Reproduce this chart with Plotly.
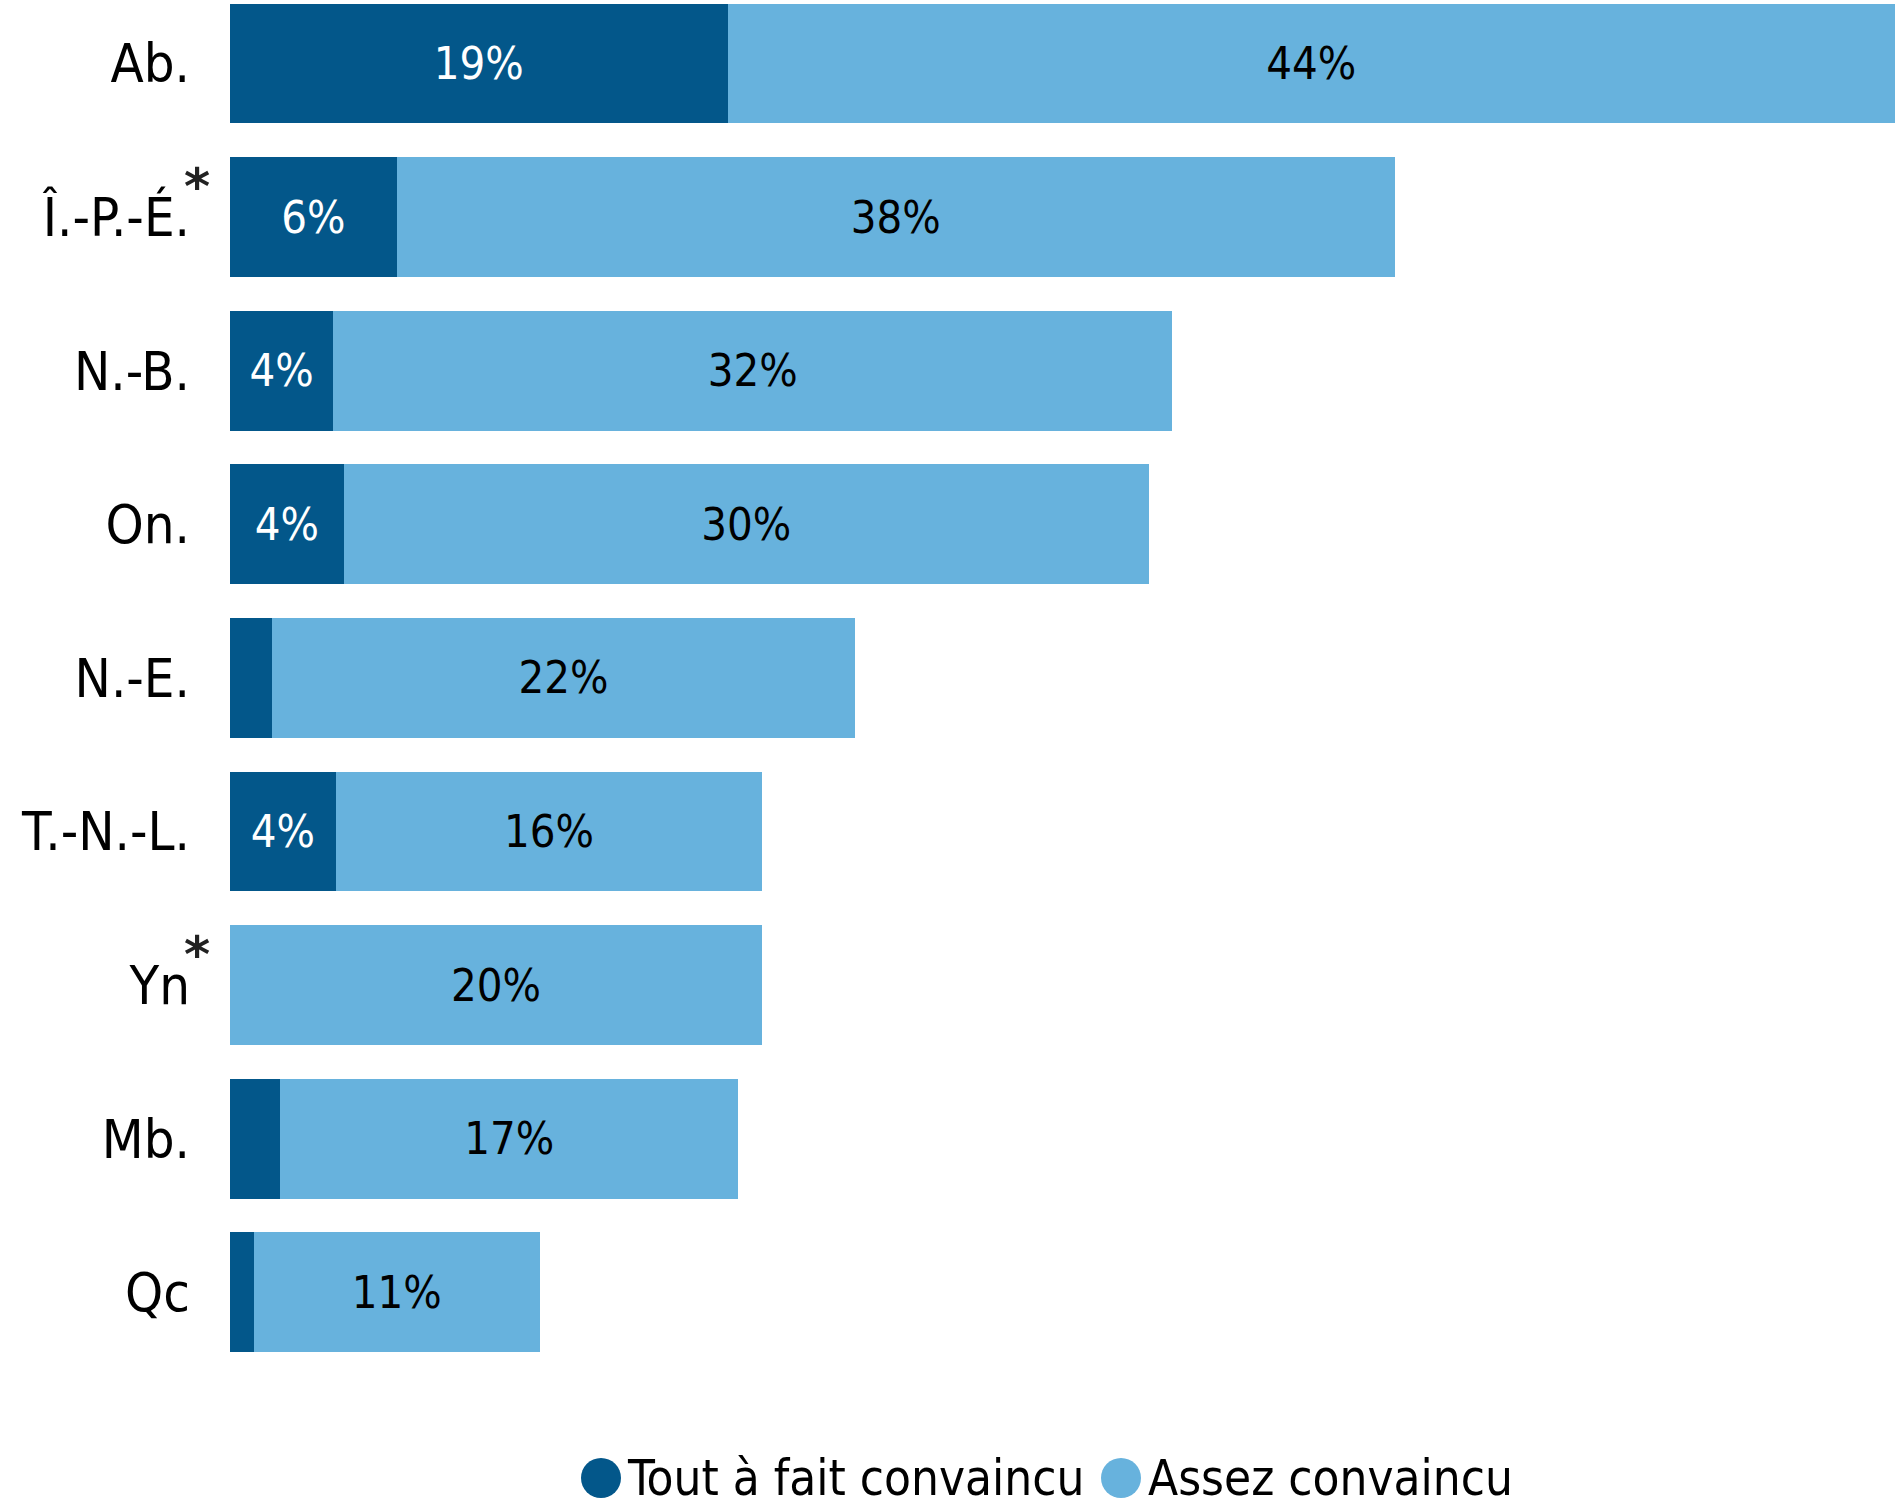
import plotly.graph_objects as go

categories = ["Ab.", "Î.-P.-É.", "N.-B.", "On.", "N.-E.", "T.-N.-L.", "Yn", "Mb.", "Qc"]
tout_a_fait = [18.8, 6.3, 3.9, 4.3, 1.6, 4.0, 0.0, 1.9, 0.9]
assez = [44.1, 37.7, 31.7, 30.4, 22.0, 16.1, 20.1, 17.3, 10.8]
tout_labels = ["19%", "6%", "4%", "4%", "", "4%", "", "", ""]
assez_labels = ["44%", "38%", "32%", "30%", "22%", "16%", "20%", "17%", "11%"]
starred = ["Î.-P.-É.", "Yn"]
series_names = ["Tout à fait convaincu", "Assez convaincu"]

DARK = "#03578A"
LIGHT = "#67B2DD"
FONT = "DejaVu Sans Condensed, DejaVu Sans, sans-serif"
STAR_FONT = "DejaVu Sans, sans-serif"

fig = go.Figure()
fig.add_trace(go.Bar(
    y=categories, x=tout_a_fait, orientation="h", name=series_names[0],
    marker=dict(color=DARK, line=dict(width=0)),
    text=tout_labels, textposition="inside", insidetextanchor="middle",
    textangle=0, constraintext="none",
    textfont=dict(color="white", size=45, family=FONT),
    showlegend=False,
))
fig.add_trace(go.Bar(
    y=categories, x=assez, orientation="h", name=series_names[1],
    marker=dict(color=LIGHT, line=dict(width=0)),
    text=assez_labels, textposition="inside", insidetextanchor="middle",
    textangle=0, constraintext="none",
    textfont=dict(color="black", size=45, family=FONT),
    showlegend=False,
))

W, H = 1895, 1500
ml, mr, mt, mb = 230, 0, 0, 130
pw = W - ml - mr
ph = H - mt - mb

def px_to_paper_x(px):
    return (px - ml) / pw

def px_to_paper_y(py):
    return (H - mb - py) / ph

annotations = []
for c in starred:
    annotations.append(dict(
        x=px_to_paper_x(197), xref="paper", y=c, yref="y",
        text="<b>*</b>", showarrow=False, xanchor="center", yanchor="middle",
        yshift=30, font=dict(size=50, color="#222222", family=STAR_FONT),
    ))

shapes = []
leg_y = px_to_paper_y(1478)
leg_items = [(601, 625, DARK, series_names[0]), (1121, 1146, LIGHT, series_names[1])]
for cx, tx, col, name in leg_items:
    shapes.append(dict(
        type="circle", xref="paper", yref="paper",
        xsizemode="pixel", ysizemode="pixel",
        xanchor=px_to_paper_x(cx), yanchor=leg_y,
        x0=-20, x1=20, y0=-20, y1=20,
        fillcolor=col, line=dict(width=0),
    ))
    annotations.append(dict(
        x=px_to_paper_x(tx), xref="paper", y=leg_y, yref="paper",
        text=name, showarrow=False, xanchor="left", yanchor="middle",
        font=dict(size=49, color="black", family=FONT),
    ))

fig.update_layout(
    barmode="stack", bargap=0.22,
    width=W, height=H,
    margin=dict(l=ml, r=mr, t=mt, b=mb, pad=0),
    plot_bgcolor="white", paper_bgcolor="white",
    font=dict(family=FONT, color="black"),
    xaxis=dict(range=[0, 62.9], visible=False, fixedrange=True),
    yaxis=dict(
        range=[8.506, -0.413], showgrid=False, zeroline=False, showline=False,
        ticks="", ticklabelstandoff=39, fixedrange=True,
        tickfont=dict(size=54, color="black", family=FONT),
    ),
    shapes=shapes, annotations=annotations,
)

fig.write_html(
    "out.html",
    config={"displayModeBar": False},
    post_script="document.body.style.margin='0';document.body.style.overflow='hidden';",
)
